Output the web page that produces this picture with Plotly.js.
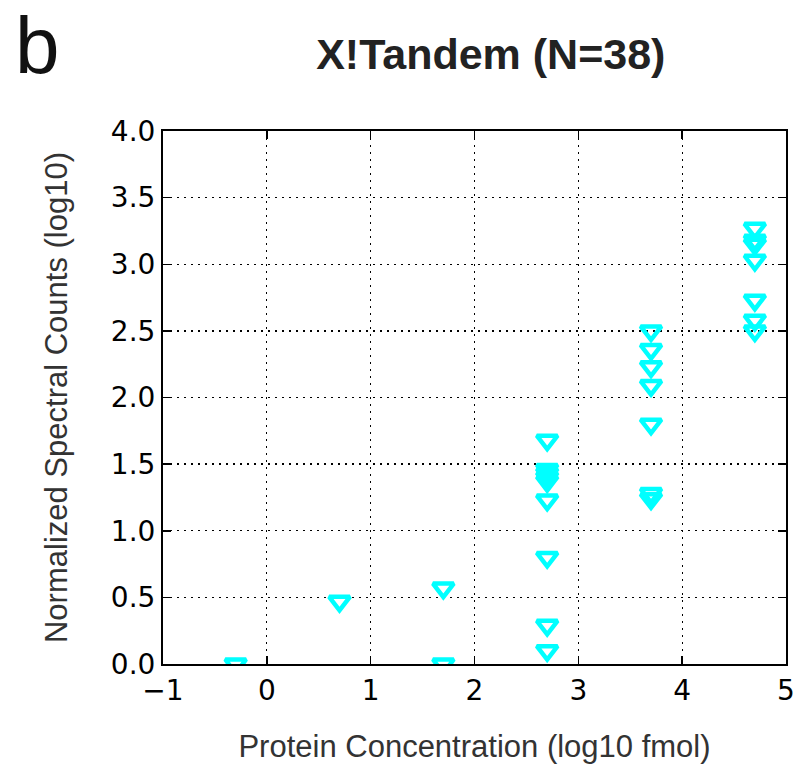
<!DOCTYPE html>
<html><head><meta charset="utf-8">
<script src="https://cdn.plot.ly/plotly-3.0.1.min.js"></script>
<style>body{margin:0;background:#fff}</style></head>
<body><div id="chart" style="width:798px;height:769px"></div>
<script>
// log10 protein concentration (fmol) for each point
const conc = [
  -0.30,
  0.70,
  1.70, 1.70,
  2.70, 2.70, 2.70, 2.70, 2.70, 2.70, 2.70, 2.70, 2.70,
  3.70, 3.70, 3.70, 3.70, 3.70, 3.70, 3.70,
  4.70, 4.70, 4.70, 4.70, 4.70, 4.70, 4.70
];
// normalized spectral counts (log10)
const counts = [
  0.00,
  0.47,
  0.57, 0.00,
  1.68, 1.46, 1.43, 1.40, 1.37, 1.23, 0.80, 0.29, 0.10,
  2.50, 2.36, 2.23, 2.09, 1.80, 1.28, 1.24,
  3.27, 3.18, 3.15, 3.03, 2.73, 2.58, 2.50
];
const xTicks = [-1, 0, 1, 2, 3, 4, 5];
const xTickText = ['\u22121', '0', '1', '2', '3', '4', '5'];
const yTicks = [0, 0.5, 1, 1.5, 2, 2.5, 3, 3.5, 4];
const yTickText = ['0.0', '0.5', '1.0', '1.5', '2.0', '2.5', '3.0', '3.5', '4.0'];

const tickFont = {family: 'DejaVu Sans, sans-serif', size: 28, color: '#000'};
const axisCommon = {
  showline: true, linecolor: '#000', linewidth: 2, mirror: 'ticks',
  ticks: 'inside', ticklen: 8, tickwidth: 1.5, tickcolor: '#000',
  showgrid: true, gridcolor: '#000', gridwidth: 1.3, griddash: '2px,5px',
  zeroline: false, tickfont: tickFont, tickmode: 'array'
};

const trace = {
  x: conc, y: counts, type: 'scatter', mode: 'markers',
  marker: {symbol: 'triangle-down-open', size: 18, color: '#00FFFF',
           line: {color: '#00FFFF', width: 4.5}},
  cliponaxis: true, hoverinfo: 'x+y'
};

const labelFont = {family: 'Liberation Sans, Arial, sans-serif', size: 31, color: '#333'};

const layout = {
  width: 798, height: 769,
  margin: {l: 163, r: 12, t: 131, b: 105},
  paper_bgcolor: '#fff', plot_bgcolor: '#fff',
  showlegend: false,
  title: {text: '<b>X!Tandem (N=38)</b>', x: 0.615, xanchor: 'center', y: 0.93, yanchor: 'middle',
          font: {family: 'Liberation Sans Narrow, Liberation Sans, Arial, sans-serif', size: 43, color: '#222'}},
  xaxis: Object.assign({}, axisCommon, {range: [-1, 5], tickvals: xTicks, ticktext: xTickText,
    title: {text: 'Protein Concentration (log10 fmol)', standoff: 30, font: labelFont}}),
  yaxis: Object.assign({}, axisCommon, {range: [0, 4], tickvals: yTicks, ticktext: yTickText,
    title: {text: 'Normalized Spectral Counts (log10)', standoff: 34, font: labelFont}}),
  annotations: [{text: 'b', xref: 'paper', yref: 'paper', x: -0.24, y: 1.16, xanchor: 'left', yanchor: 'middle',
    showarrow: false, font: {family: 'Liberation Sans, Arial, sans-serif', size: 80, color: '#111'}}]
};

Plotly.newPlot('chart', [trace], layout, {displayModeBar: false, staticPlot: true});
</script></body></html>
